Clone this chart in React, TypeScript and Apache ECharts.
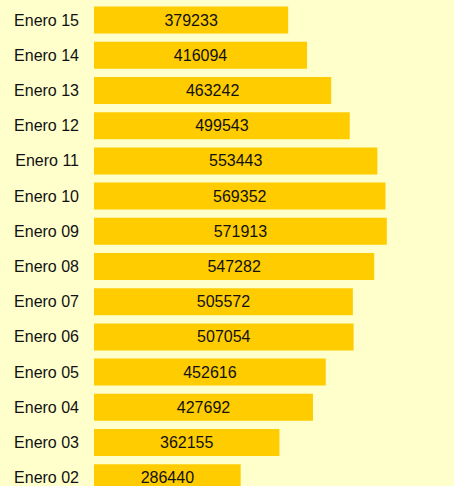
import React, { useEffect, useRef } from "react";
import * as echarts from "echarts";

const categories = [
  "Enero 02", "Enero 03", "Enero 04", "Enero 05", "Enero 06", "Enero 07", "Enero 08",
  "Enero 09", "Enero 10", "Enero 11", "Enero 12", "Enero 13", "Enero 14", "Enero 15",
];
const values = [
  286440, 362155, 427692, 452616, 507054, 505572, 547282,
  571913, 569352, 553443, 499543, 463242, 416094, 379233,
];

export default function App() {
  const ref = useRef<HTMLDivElement>(null);
  useEffect(() => {
    document.body.style.margin = "0";
    document.body.style.background = "#FFFFCC";
    const chart = echarts.init(ref.current!, undefined, { renderer: "svg" });
    chart.setOption({
      animation: false,
      backgroundColor: "#FFFFCC",
      grid: { left: 94, top: 2.5, width: 358.4, height: 492.8 },
      xAxis: {
        type: "value",
        min: 0,
        max: 700000,
        show: false,
      },
      yAxis: {
        type: "category",
        data: categories,
        axisLine: { show: false },
        axisTick: { show: false },
        splitLine: { show: false },
        axisLabel: {
          color: "#111",
          fontFamily: "Liberation Sans, Arial, sans-serif",
          fontSize: 16,
          margin: 15,
        },
      },
      series: [
        {
          type: "bar",
          data: values,
          barWidth: 27,
          itemStyle: { color: "#FFCC00" },
          label: {
            show: true,
            position: "inside",
            color: "#111",
            fontFamily: "Liberation Sans, Arial, sans-serif",
            fontSize: 16,
          },
        },
      ],
    });
    return () => chart.dispose();
  }, []);
  return (
    <div
      ref={ref}
      style={{ position: "fixed", left: 0, top: 0, width: 454, height: 500 }}
    />
  );
}
